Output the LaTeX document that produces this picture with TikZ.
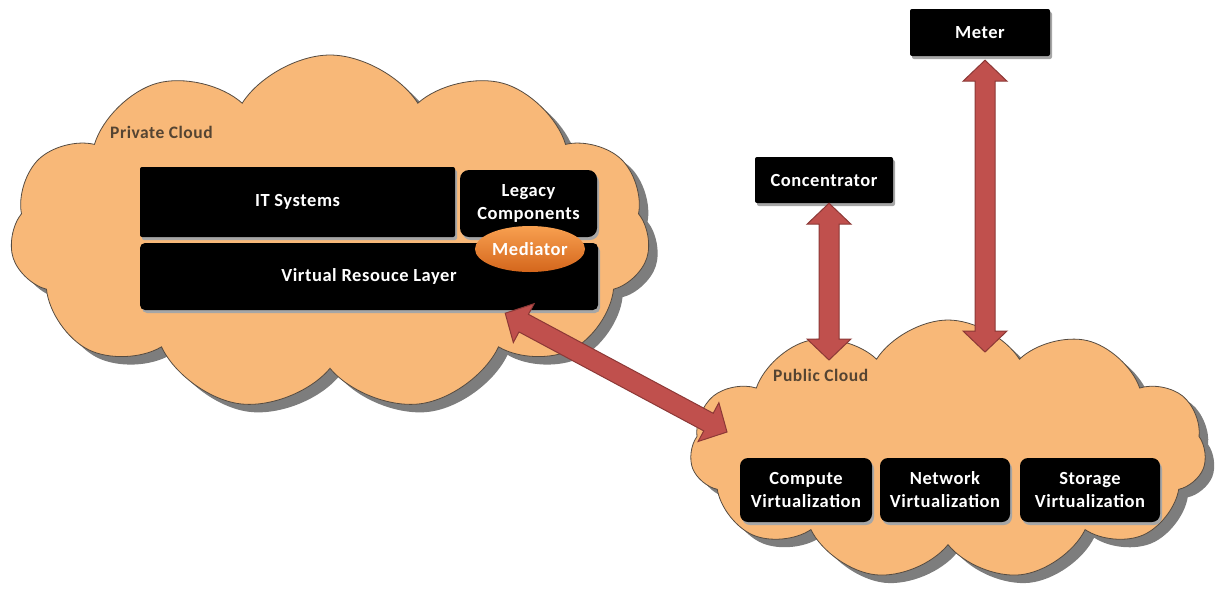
\documentclass[tikz,border=0pt]{standalone}
\usepackage{fontspec}
\setmainfont{Carlito}
\usetikzlibrary{shapes.symbols,shapes.geometric,calc}
\definecolor{cloudfill}{RGB}{248,184,120}
\definecolor{cloudline}{RGB}{85,75,65}
\definecolor{cloudshadow}{RGB}{125,125,125}
\definecolor{arrowfill}{RGB}{192,80,77}
\definecolor{arrowline}{RGB}{140,56,54}
\definecolor{medtop}{RGB}{248,160,80}
\definecolor{medbot}{RGB}{212,102,28}
\definecolor{labeltext}{RGB}{85,68,50}

\newcommand\fatarrow[3]{% name, end A, end B
  \coordinate (#1hA) at ($(#2)!21pt!(#3)$);
  \coordinate (#1hB) at ($(#3)!21pt!(#2)$);
  \filldraw[arrowpath]
    (#2) -- ($(#1hA)!22pt!90:(#3)$) -- ($(#1hA)!10pt!90:(#3)$)
    -- ($(#1hB)!10pt!-90:(#2)$) -- ($(#1hB)!22pt!-90:(#2)$) -- (#3)
    -- ($(#1hB)!22pt!90:(#2)$) -- ($(#1hB)!10pt!90:(#2)$)
    -- ($(#1hA)!10pt!-90:(#3)$) -- ($(#1hA)!22pt!-90:(#3)$) -- cycle;
}

\tikzset{
  cloudbox/.style={cloud, cloud puffs=11, cloud puff arc=115, draw=cloudline,
    line width=0.8pt, fill=cloudfill, inner sep=0pt,
    preaction={draw=none, fill=cloudshadow, transform canvas={xshift=9pt,yshift=-8pt}}},
  blackbox/.style={fill=black, rounded corners=5pt, text=white, align=center,
    inner sep=0pt, font=\bfseries\fontsize{18.5}{23}\selectfont\addfontfeature{LetterSpace=3},
    preaction={fill=black!35, transform canvas={xshift=2pt,yshift=-3pt}}},
  mediator/.style={ellipse, top color=medtop, bottom color=medbot, text=white,
    inner sep=0pt, font=\bfseries\fontsize{18.5}{23}\selectfont\addfontfeature{LetterSpace=3}},
  cloudlabel/.style={anchor=west, text=labeltext, inner sep=0pt,
    font=\bfseries\fontsize{17.5}{21}\selectfont\addfontfeature{LetterSpace=3}},
  arrowpath/.style={fill=arrowfill, draw=arrowline, line width=1pt, line join=miter}
}

\begin{document}
\begin{tikzpicture}[x=1pt,y=-1pt]
\useasboundingbox (0,0) rectangle (1215,590);

% clouds
\node[cloudbox, minimum width=640, minimum height=356] (priv) at (330,233) {};
\node[cloudbox, minimum width=516, minimum height=260] (pub) at (948,450) {};

\node[cloudlabel] (privlab) at (110,132) {Private Cloud};
\node[cloudlabel] (publab) at (773,375) {Public Cloud};

% private cloud boxes
\node[blackbox, minimum width=315, minimum height=70, rounded corners=2pt] (its) at (297.5,202) {IT Systems};
\node[blackbox, minimum width=137, minimum height=67, rounded corners=9pt] (leg) at (528.5,203.5) {Legacy\\Components};
\node[blackbox, minimum width=458, minimum height=67] (vrl) at (369,276.5) {Virtual Resouce Layer};
\node[mediator, minimum width=110, minimum height=46] (med) at (530,249) {Mediator};

% upper boxes
\node[blackbox, minimum width=138, minimum height=46, rounded corners=2pt] (conc) at (824,180) {Concentrator};
\node[blackbox, minimum width=140, minimum height=47, rounded corners=2pt] (meter) at (980,32.5) {Meter};

% public cloud boxes
\node[blackbox, minimum width=132, minimum height=64, rounded corners=8pt] (comp) at (806,490) {Compute\\Virtualization};
\node[blackbox, minimum width=130, minimum height=64, rounded corners=8pt] (netw) at (945,490) {Network\\Virtualization};
\node[blackbox, minimum width=140, minimum height=64, rounded corners=8pt] (stor) at (1090,490) {Storage\\Virtualization};

% arrows
\coordinate (concfoot) at (829,360);
\coordinate (meterfoot) at (985,352);
\coordinate (diagtop) at ($(vrl.south east)+(-93,3)$);
\coordinate (diagfoot) at (727,432);
\coordinate (conctop) at (concfoot |- conc.south);
\coordinate (metertop) at ($(meterfoot |- meter.south)+(0,4)$);
\fatarrow{ca}{conctop}{concfoot}
\fatarrow{ma}{metertop}{meterfoot}
\fatarrow{da}{diagtop}{diagfoot}
\end{tikzpicture}
\end{document}
